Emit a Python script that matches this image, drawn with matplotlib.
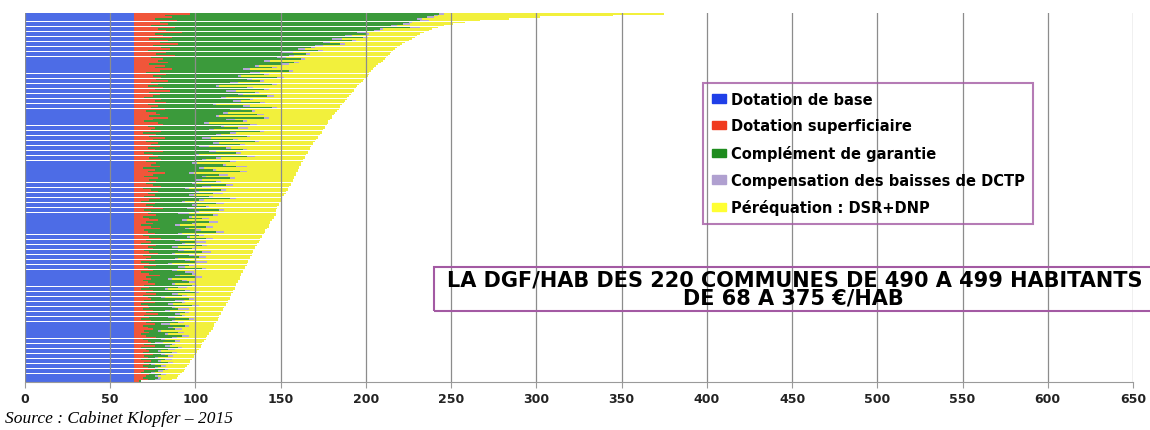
import numpy as np
import matplotlib.pyplot as plt
from matplotlib.patches import Patch, Rectangle

# DGF par habitant des 220 communes de 490 a 499 habitants (triees par total)
dotation_base = 64

total_dgf = [
    375, 345, 302, 284, 267, 258, 251, 246, 242, 239,
    237, 234, 232, 230, 229, 227, 225, 223, 221, 220,
    218, 217, 216, 215, 214, 213, 212, 211, 210, 209,
    207, 206, 205, 204, 203, 202, 202, 201, 200, 199,
    198, 197, 196, 195, 194, 193, 193, 192, 191, 190,
    189, 189, 188, 187, 186, 185, 185, 184, 183, 182,
    181, 180, 180, 179, 178, 178, 177, 176, 176, 175,
    174, 174, 173, 172, 172, 171, 170, 169, 169, 168,
    167, 167, 166, 166, 165, 164, 164, 163, 163, 162,
    162, 161, 161, 160, 160, 159, 159, 158, 158, 157,
    157, 156, 156, 155, 154, 154, 153, 153, 152, 151,
    151, 150, 150, 149, 149, 148, 148, 147, 147, 147,
    147, 146, 146, 145, 144, 144, 143, 143, 142, 141,
    141, 140, 139, 139, 138, 138, 137, 136, 136, 135,
    135, 134, 134, 133, 133, 132, 132, 131, 131, 130,
    130, 129, 129, 128, 128, 127, 127, 126, 126, 125,
    125, 124, 124, 123, 123, 122, 122, 121, 121, 120,
    120, 119, 119, 118, 118, 117, 116, 116, 115, 115,
    114, 114, 113, 113, 112, 111, 111, 110, 110, 109,
    108, 108, 107, 106, 106, 105, 104, 104, 103, 103,
    102, 101, 101, 100, 99, 99, 98, 97, 97, 96,
    95, 94, 94, 93, 92, 91, 90, 89, 86, 68,
]

dotation_superficiaire = [
    33, 18, 22, 12, 25, 15, 20, 10, 24, 14,
    19, 28, 12, 17, 22, 9, 20, 15, 26, 11,
    16, 21, 8, 19, 13, 24, 10, 17, 14, 20,
    9, 18, 12, 22, 15, 7, 19, 11, 16, 13,
    20, 10, 14, 8, 17, 12, 21, 9, 15, 11,
    6, 16, 12, 19, 8, 14, 10, 18, 7, 13,
    15, 9, 20, 11, 6, 14, 17, 8, 12, 10,
    16, 5, 13, 9, 18, 11, 7, 14, 10, 15,
    8, 12, 17, 6, 11, 14, 9, 16, 7, 13,
    10, 15, 5, 12, 8, 18, 11, 6, 14, 9,
    13, 7, 11, 16, 5, 10, 14, 8, 12, 6,
    15, 9, 4, 12, 7, 11, 17, 6, 10, 8,
    13, 5, 9, 14, 7, 11, 4, 10, 15, 6,
    8, 12, 5, 9, 16, 7, 10, 4, 13, 8,
    11, 6, 9, 14, 5, 10, 7, 12, 4, 9,
    13, 6, 8, 11, 4, 9, 15, 7, 10, 5,
    8, 12, 6, 9, 4, 11, 7, 13, 5, 8,
    10, 6, 12, 4, 8, 9, 5, 11, 7, 14,
    6, 9, 4, 10, 7, 12, 5, 8, 11, 6,
    9, 4, 7, 13, 5, 8, 10, 6, 12, 4,
    7, 9, 5, 11, 6, 8, 4, 10, 6, 9,
    5, 8, 12, 6, 4, 9, 7, 5, 8, 3,
]

complement_garantie = [
    146, 158, 150, 154, 143, 146, 138, 141, 138, 130,
    122, 103, 124, 107, 112, 107, 108, 96, 95, 95,
    88, 75, 100, 67, 88, 67, 74, 81, 62, 74,
    77, 53, 69, 42, 76, 61, 57, 50, 68, 53,
    54, 46, 67, 40, 49, 64, 33, 62, 46, 67,
    45, 52, 46, 55, 38, 50, 71, 38, 62, 39,
    57, 39, 56, 43, 58, 27, 51, 43, 49, 34,
    58, 51, 35, 57, 22, 47, 64, 32, 52, 23,
    46, 52, 27, 54, 25, 52, 39, 24, 49, 21,
    42, 45, 33, 34, 54, 14, 39, 34, 42, 27,
    35, 27, 43, 24, 25, 41, 22, 38, 20, 38,
    41, 29, 24, 36, 27, 31, 14, 44, 26, 18,
    33, 27, 31, 14, 37, 23, 20, 32, 15, 30,
    40, 14, 33, 22, 26, 17, 26, 24, 27, 14,
    23, 20, 31, 8, 27, 28, 17, 18, 32, 11,
    19, 20, 32, 11, 26, 25, 9, 29, 10, 23,
    24, 10, 28, 17, 14, 19, 29, 9, 23, 8,
    22, 18, 16, 16, 26, 13, 21, 7, 23, 10,
    22, 11, 28, 12, 19, 4, 25, 12, 13, 8,
    17, 14, 21, 9, 11, 16, 2, 16, 6, 22,
    13, 5, 17, 5, 14, 4, 14, 4, 14, 1,
    11, 4, 6, 8, 6, 7, 5, 9, 4, 1,
]

compensation_dctp = [
    3, 2, 4, 3, 5, 2, 4, 3, 6, 2,
    3, 5, 2, 4, 3, 6, 2, 4, 3, 5,
    2, 4, 3, 7, 2, 3, 5, 2, 4, 3,
    5, 2, 3, 4, 2, 6, 3, 2, 4, 3,
    2, 5, 3, 2, 4, 3, 6, 2, 3, 4,
    3, 2, 5, 3, 2, 4, 3, 7, 2, 3,
    4, 2, 3, 5, 2, 3, 4, 2, 6, 3,
    2, 4, 3, 2, 5, 3, 2, 4, 3, 6,
    3, 2, 4, 3, 2, 5, 3, 2, 4, 3,
    2, 6, 3, 2, 4, 3, 5, 2, 3, 4,
    3, 2, 4, 5, 2, 3, 2, 6, 3, 2,
    4, 3, 2, 5, 3, 2, 4, 3, 2, 6,
    3, 2, 4, 3, 5, 2, 3, 4, 2, 3,
    5, 2, 3, 2, 4, 3, 6, 2, 3, 4,
    2, 3, 5, 2, 3, 4, 2, 3, 7, 2,
    3, 4, 2, 3, 5, 2, 3, 4, 2, 3,
    4, 2, 3, 5, 2, 3, 2, 4, 3, 2,
    3, 5, 2, 3, 4, 2, 6, 3, 2, 3,
    2, 4, 3, 2, 3, 5, 2, 3, 4, 2,
    3, 2, 4, 3, 2, 3, 5, 2, 3, 2,
    4, 2, 3, 2, 3, 2, 4, 2, 3, 2,
    3, 2, 2, 3, 2, 3, 2, 2, 3, 0,
]

labels = ["Dotation de base", "Dotation superficiaire", "Complément de garantie",
          "Compensation des baisses de DCTP", "Péréquation : DSR+DNP"]
bar_colors = ["#4d6ce6", "#f0563a", "#3b9a3b", "#b6a8d8", "#f2f03c"]
legend_colors = ["#1f3fe8", "#f03a1e", "#1e8c1e", "#b0a0d0", "#ffff33"]

n = len(total_dgf)
base = np.full(n, dotation_base, dtype=float)
sup = np.array(dotation_superficiaire, dtype=float)
comp = np.array(complement_garantie, dtype=float)
dctp = np.array(compensation_dctp, dtype=float)
# la péréquation complète la barre jusqu'au total lu
pereq = np.clip(np.array(total_dgf, dtype=float) - base - sup - comp - dctp, 0, None)

fig = plt.figure(figsize=(11.5, 4.31), dpi=100)
ax = fig.add_axes([25 / 1150, 1 - 383 / 431, 1108 / 1150, 369 / 431])

y = np.arange(n)
left = np.zeros(n)
for values, color in zip([base, sup, comp, dctp, pereq], bar_colors):
    ax.barh(y, values, left=left, height=0.85, color=color, linewidth=0)
    left += values

ax.set_xlim(0, 650)
ax.set_ylim(n - 0.5, -0.5)
ax.set_xticks(np.arange(0, 651, 50))
ax.set_yticks([])
ax.set_axisbelow(False)
ax.xaxis.grid(True, color="#8c8c8c", linewidth=0.9)
for side in ["left", "top", "right"]:
    ax.spines[side].set_visible(False)
ax.spines["bottom"].set_color("#9a9a9a")
ax.tick_params(axis="x", length=4, color="#9a9a9a", labelsize=9, pad=3, labelcolor="#222222")
for lab in ax.get_xticklabels():
    lab.set_fontweight("bold")

handles = [Patch(color=c) for c in legend_colors]
leg = fig.legend(handles, labels, loc="upper left", bbox_to_anchor=(703 / 1150, 1 - 84 / 431),
                 frameon=True, fancybox=False, edgecolor="#a35aa3", facecolor="none",
                 prop={"weight": "bold", "size": 10.5}, handlelength=1.0, handleheight=0.5,
                 handletextpad=0.3, labelspacing=0.8, borderpad=0.6, borderaxespad=0)
leg.get_frame().set_linewidth(1.5)

fig.add_artist(Rectangle((434 / 1150, 1 - 312 / 431), 760 / 1150, 44 / 431,
                         transform=fig.transFigure, fill=False, edgecolor="#a35aa3",
                         linewidth=1.5, clip_on=False))
fig.text(795 / 1150, 1 - 281 / 431, "LA DGF/HAB DES 220 COMMUNES DE 490 A 499 HABITANTS",
         ha="center", va="center", fontsize=15, fontweight="bold")
fig.text(793 / 1150, 1 - 299 / 431, "DE 68 A 375 €/HAB",
         ha="center", va="center", fontsize=15, fontweight="bold")

fig.text(5 / 1150, 1 - 419 / 431, "Source : Cabinet Klopfer – 2015",
         family="Liberation Serif", style="italic", fontsize=12.5, va="center")

fig.savefig("out.png", dpi=100)
